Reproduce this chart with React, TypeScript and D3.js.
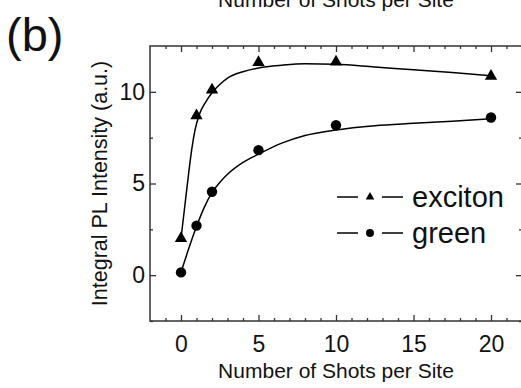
import React, { useEffect, useRef } from 'react'
import * as d3 from 'd3'

// measured points
const shots = [0, 1, 2, 5, 10, 20]
const exciton = [2.0, 8.7, 10.1, 11.6, 11.63, 10.85]
const green = [0.15, 2.7, 4.55, 6.82, 8.18, 8.6]

// fitted curves
const excitonFitX = [0, 0.25, 0.5, 0.7, 0.9, 1.2, 1.6, 2, 2.5, 3, 4, 5, 6.5, 8, 10, 12.5, 15, 17.5, 20]
const excitonFitY = [2.0, 3.8, 5.6, 6.9, 7.9, 8.8, 9.45, 9.95, 10.4, 10.75, 11.1, 11.3, 11.45, 11.53, 11.5, 11.35, 11.2, 11.05, 10.88]
const greenFitX = [0, 0.5, 1, 1.5, 2, 2.5, 3, 4, 5, 6.5, 8, 10, 12.5, 15, 17.5, 20]
const greenFitY = [0.15, 1.45, 2.65, 3.7, 4.5, 5.05, 5.5, 6.15, 6.6, 7.2, 7.62, 7.92, 8.15, 8.28, 8.4, 8.53]

const xMajor = [0, 5, 10, 15, 20]
const xMinor = [-1, 1, 2, 3, 4, 6, 7, 8, 9, 11, 12, 13, 14, 16, 17, 18, 19, 21]
const yMajor = [0, 5, 10]
const yMinor = [-2.5, 2.5, 7.5]

const W = 521
const H = 388
const margin = { top: 46, right: -1, bottom: 67, left: 150 }
const font = '"Liberation Sans", Arial, sans-serif'
const axisColor = '#333'

const x = d3.scaleLinear().domain([-2, 22]).range([margin.left, W - margin.right])
const y = d3.scaleLinear().domain([-2.5, 12.5]).range([H - margin.bottom, margin.top])

const App = () => {
  const ref = useRef<SVGSVGElement>(null)

  useEffect(() => {
    const svg = d3.select(ref.current)
    svg.selectAll('*').remove()

    const x0 = x.range()[0], x1 = x.range()[1]
    const y0 = y.range()[0], y1 = y.range()[1]

    const axes = svg.append('g')
    const add = (axis: any, tx: number, ty: number) => {
      const g = axes.append('g').attr('transform', `translate(${tx},${ty})`).call(axis)
      g.select('.domain').remove()
      g.selectAll('line').attr('stroke', axisColor).attr('stroke-width', 1.3)
      g.selectAll('text').attr('font-family', font).attr('font-size', 23).attr('fill', '#111')
      return g
    }

    add(d3.axisBottom(x).tickValues(xMajor).tickSize(-6).tickSizeOuter(0).tickPadding(15), 0, y0)
    add(d3.axisBottom(x).tickValues(xMinor).tickSize(-3).tickSizeOuter(0).tickFormat(() => ''), 0, y0)
    add(d3.axisTop(x).tickValues(xMajor).tickSize(-6).tickSizeOuter(0).tickFormat(() => ''), 0, y1)
    add(d3.axisTop(x).tickValues(xMinor).tickSize(-3).tickSizeOuter(0).tickFormat(() => ''), 0, y1)
    add(d3.axisLeft(y).tickValues(yMajor).tickSize(-6).tickSizeOuter(0).tickPadding(5), x0, 0)
    add(d3.axisLeft(y).tickValues(yMinor).tickSize(-3).tickSizeOuter(0).tickFormat(() => ''), x0, 0)
    add(d3.axisRight(y).tickValues(yMajor).tickSize(-6).tickSizeOuter(0).tickFormat(() => ''), x1, 0)
    add(d3.axisRight(y).tickValues(yMinor).tickSize(-3).tickSizeOuter(0).tickFormat(() => ''), x1, 0)

    svg.append('rect')
      .attr('x', x0).attr('y', y1)
      .attr('width', x1 - x0).attr('height', y0 - y1)
      .attr('fill', 'none').attr('stroke', axisColor).attr('stroke-width', 1.5)

    const line = d3.line<[number, number]>()
      .x(d => x(d[0]))
      .y(d => y(d[1]))
      .curve(d3.curveMonotoneX)

    const fits = [
      excitonFitX.map((v, i) => [v, excitonFitY[i]] as [number, number]),
      greenFitX.map((v, i) => [v, greenFitY[i]] as [number, number])
    ]
    svg.selectAll('.fit')
      .data(fits).enter()
      .append('path')
        .attr('class', 'fit')
        .attr('d', d => line(d))
        .attr('fill', 'none')
        .attr('stroke', '#000')
        .attr('stroke-width', 1.5)

    const tri = d3.symbol(d3.symbolTriangle, 66)
    const dot = d3.symbol(d3.symbolCircle, 85)

    svg.selectAll('.tri')
      .data(shots).enter()
      .append('path')
        .attr('class', 'tri')
        .attr('d', tri())
        .attr('transform', (d, i) => `translate(${x(d)},${y(exciton[i])})`)
        .attr('fill', '#000')

    svg.selectAll('.dot')
      .data(shots).enter()
      .append('path')
        .attr('class', 'dot')
        .attr('d', dot())
        .attr('transform', (d, i) => `translate(${x(d)},${y(green[i])})`)
        .attr('fill', '#000')

    // legend
    const legend = [
      { name: 'exciton', symbol: d3.symbol(d3.symbolTriangle, 32)(), ly: 197 },
      { name: 'green', symbol: d3.symbol(d3.symbolCircle, 50)(), ly: 233 }
    ]
    const lg = svg.selectAll('.legend')
      .data(legend).enter()
      .append('g')
        .attr('class', 'legend')
        .attr('transform', d => `translate(0,${d.ly})`)
    lg.append('line').attr('x1', 337).attr('x2', 358).attr('stroke', '#000').attr('stroke-width', 1.5)
    lg.append('line').attr('x1', 382).attr('x2', 403).attr('stroke', '#000').attr('stroke-width', 1.5)
    lg.append('path').attr('d', d => d.symbol).attr('transform', 'translate(370,0)').attr('fill', '#000')
    lg.append('text')
      .attr('x', 412).attr('y', 10)
      .attr('font-family', font).attr('font-size', 29)
      .attr('fill', '#111')
      .text(d => d.name)

    // titles
    svg.append('text')
      .attr('x', (x0 + x1) / 2).attr('y', 378)
      .attr('text-anchor', 'middle')
      .attr('font-family', font).attr('font-size', 21).attr('fill', '#111')
      .text('Number of Shots per Site')

    svg.append('text')
      .attr('x', (x0 + x1) / 2).attr('y', 7)
      .attr('text-anchor', 'middle')
      .attr('font-family', font).attr('font-size', 21).attr('fill', '#111')
      .text('Number of Shots per Site')

    svg.append('text')
      .attr('transform', `translate(107,${(y0 + y1) / 2}) rotate(-90)`)
      .attr('text-anchor', 'middle')
      .attr('font-family', font).attr('font-size', 21.5).attr('fill', '#111')
      .text('Integral PL Intensity (a.u.)')

    svg.append('text')
      .attr('x', 6).attr('y', 51)
      .attr('font-family', font).attr('font-size', 47).attr('fill', '#111')
      .text('(b)')
  }, [])

  return (
    <svg
      ref={ref}
      width={W}
      height={H}
      style={{ position: 'absolute', left: 0, top: 0, background: '#fff' }}
    />
  )
}

export default App
